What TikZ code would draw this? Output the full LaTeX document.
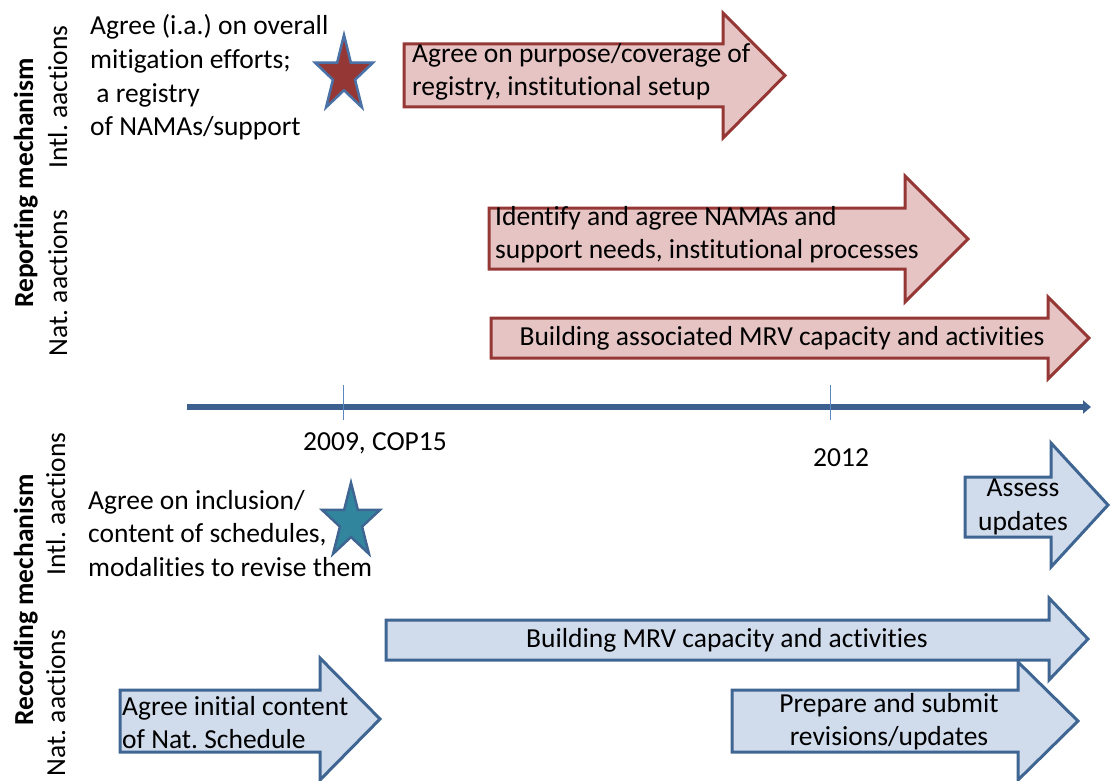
\documentclass[tikz,border=0pt]{standalone}
\usepackage{fontspec}
\setmainfont{Carlito}[Ligatures=NoCommon]
\usetikzlibrary{arrows.meta}
\frenchspacing
\definecolor{redfill}{HTML}{E5C4C3}
\definecolor{redline}{HTML}{953735}
\definecolor{bluefill}{HTML}{D0DCEC}
\definecolor{blueline}{HTML}{3F6592}
\definecolor{starred}{HTML}{953735}
\definecolor{starblue}{HTML}{31859C}
\definecolor{starline}{HTML}{4A72A6}
\definecolor{axisdark}{HTML}{3C6090}
\definecolor{tickc}{HTML}{5B87C0}
\newcommand{\rsArrow}[8]{\draw[#1] (#2,#5) -- (#3,#5) -- (#3,#7) -- (#4,{(#7+#8)/2}) -- (#3,#8) -- (#3,#6) -- (#2,#6) -- cycle;}
\newcommand{\rsStar}[5]{\draw[#1,shift={(#2,#3)}] (270:#4 and #5)
  \foreach \k in {1,...,4} { -- ({270+72*\k-36}:{0.382*#4} and {0.382*#5}) -- ({270+72*\k}:#4 and #5) }
  -- (234:{0.382*#4} and {0.382*#5}) -- cycle;}
\tikzset{
  redarrow/.style={fill=redfill,draw=redline,line width=3pt,line join=miter},
  bluearrow/.style={fill=bluefill,draw=blueline,line width=3pt,line join=miter},
  txt/.style={font=\fontsize{27.5}{33.5}\selectfont\frenchspacing,inner sep=0pt,align=left},
  ctxt/.style={font=\fontsize{27.5}{33.5}\selectfont\frenchspacing,inner sep=0pt,align=center},
  side/.style={font=\fontsize{27.5}{33.5}\selectfont\frenchspacing,inner sep=0pt,rotate=90,anchor=base},
  sidebold/.style={font=\fontsize{27.5}{33.5}\selectfont\bfseries,inner sep=0pt,rotate=90,anchor=base},
  axis/.style={draw=axisdark,line width=6pt,-{Triangle[length=8pt,width=13pt]}},
  tick/.style={draw=tickc,line width=1pt}
}
\begin{document}
\begin{tikzpicture}[x=1pt,y=-1pt]
\useasboundingbox (0,0) rectangle (1111,781);
% side labels
\node[sidebold] (repm) at (33,183) {Reporting mechanism};
\node[side] (repi) at (67,97) {Intl. aactions};
\node[side] (repn) at (67,283) {Nat. aactions};
\node[sidebold] (recm) at (33,600) {Recording mechanism};
\node[side] (reci) at (65,504) {Intl. aactions};
\node[side] (recn) at (65,703) {Nat. aactions};
% reporting arrows
\rsArrow{redarrow}{404}{723}{785}{44}{107}{13}{138}
\rsArrow{redarrow}{489}{905}{968}{208}{269}{176}{302}
\rsArrow{redarrow}{491}{1048}{1089}{318}{358}{297}{379}
% (multi-line nodes: base anchor = baseline of last line)
\node[txt,anchor=base west] (ra1) at (412,96) {Agree on purpose/coverage of\\registry, institutional setup};
\node[txt,anchor=base west] (ra2) at (495,258.5) {Identify and agree NAMAs and\\support needs, institutional processes};
\node[txt,anchor=base] (ra3) at (782,345) {Building associated MRV capacity and activities};
% reporting star and text
\rsStar{fill=starred,draw=starline,line width=2.5pt,line join=miter}{344}{75}{30.5}{40}
\node[txt,anchor=base west] (rs) at (90,135.5) {Agree (i.a.) on overall\\mitigation efforts;\\\ a registry\\of NAMAs/support};
% timeline
\coordinate (t0) at (187,407);
\coordinate (t1) at (1091,407);
\draw[axis] (t0) -- (t1);
\coordinate (k1a) at (343,385); \coordinate (k1b) at (343,420);
\coordinate (k2a) at (830,385); \coordinate (k2b) at (830,420);
\draw[tick] (k1a) -- (k1b);
\draw[tick] (k2a) -- (k2b);
\node[txt,anchor=base west] (y1) at (303,450) {2009, COP15};
\node[txt,anchor=base west] (y2) at (813,466) {2012};
% recording star and text
\rsStar{fill=starblue,draw=blueline,line width=2.5pt,line join=miter}{351}{522}{30.5}{39.3}
\node[txt,anchor=base west] (cs) at (88,576) {Agree on inclusion/\\content of schedules,\\modalities to revise them};
% recording arrows
\rsArrow{bluearrow}{965}{1051}{1108}{477}{537}{443}{567}
\rsArrow{bluearrow}{386}{1049}{1088}{620}{660}{598}{680}
\rsArrow{bluearrow}{732}{1018}{1078}{690}{752}{662}{780}
\rsArrow{bluearrow}{120}{320}{380}{690}{752}{658}{780}
\node[ctxt,anchor=base] (ba1) at (1023,530) {Assess\\updates};
\node[ctxt,anchor=base] (ba2) at (727,647) {Building MRV capacity and activities};
\node[ctxt,anchor=base] (ba3) at (889,745.5) {Prepare and submit\\revisions/updates};
\node[txt,anchor=base west] (ba4) at (122,748.5) {Agree initial content\\of Nat. Schedule};
\end{tikzpicture}
\end{document}
